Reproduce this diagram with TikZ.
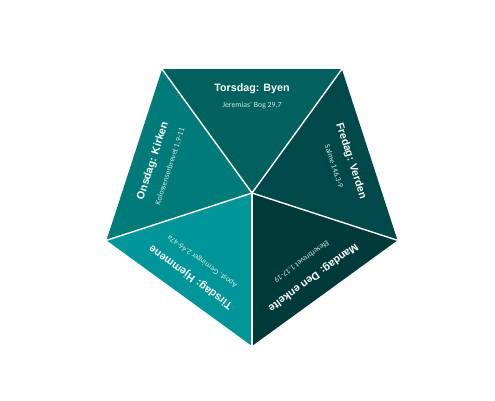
\documentclass[tikz,border=0pt]{standalone}
\usepackage{fontspec}
\setmainfont{Liberation Sans}
\newfontfamily\subfont{Carlito}
\definecolor{cTors}{HTML}{00615F}
\definecolor{cOns}{HTML}{007B7A}
\definecolor{cTirs}{HTML}{009599}
\definecolor{cMan}{HTML}{00393A}
\definecolor{cFre}{HTML}{00484A}
\definecolor{subtxt}{HTML}{D6E6E6}
\tikzset{
  sector/.style={draw=none},
  sep/.style={draw=white, line width=1.4pt},
  daytitle/.style={text=white, font=\fontsize{10.7}{12}\selectfont\bfseries, inner sep=0pt, anchor=center},
  verse/.style={text=subtxt, font=\subfont\fontsize{7.8}{9}\selectfont, inner sep=0pt, anchor=center}
}
\begin{document}
\begin{tikzpicture}[x=1pt,y=-1pt]
\useasboundingbox (0,0) rectangle (495,400);
\coordinate (C) at (252,193);
\coordinate (B) at (252,346);
\coordinate (R) at (397.5,240.3);
\coordinate (TR) at (341.9,69.2);
\coordinate (TL) at (162.1,69.2);
\coordinate (L) at (106.5,240.3);
% sectors
\fill[cTors, sector] (C) -- (TL) -- (TR) -- cycle;
\fill[cOns, sector] (C) -- (L) -- (TL) -- cycle;
\fill[cTirs, sector] (C) -- (B) -- (L) -- cycle;
\fill[cMan, sector] (C) -- (R) -- (B) -- cycle;
\fill[cFre, sector] (C) -- (TR) -- (R) -- cycle;
% separators
\draw[sep] (C) -- (TL);
\draw[sep] (C) -- (TR);
\draw[sep] (C) -- (R);
\draw[sep] (C) -- (B);
\draw[sep] (C) -- (L);
% labels
\node[daytitle] (t4) at (252,88.5) {Torsdag: Byen};
\node[verse] (s4) at (252,105.5) {Jeremias’ Bog 29,7};
\node[daytitle, rotate=72] (t3) at (153.1,160.9) {Onsdag: Kirken};
\node[verse, rotate=72] (s3) at (170.2,166.4) {Kolossenserbrevet 1,9-11};
\node[daytitle, rotate=-72] (t5) at (350.9,160.9) {Fredag: Verden};
\node[verse, rotate=-72] (s5) at (333.8,166.4) {Salme 146,3-9};
\node[daytitle, rotate=-144] (t1) at (313.1,277.1) {Mandag: Den enkelte};
\node[verse, rotate=-144] (s1) at (301.5,261.4) {Efeserbrevet 1,17-19};
\node[daytitle, rotate=144] (t2) at (190.9,277.1) {Tirsdag: Hjemmene};
\node[verse, rotate=144] (s2) at (202.5,261.4) {Apost. Gerninger 2,46-47a};
\end{tikzpicture}
\end{document}
